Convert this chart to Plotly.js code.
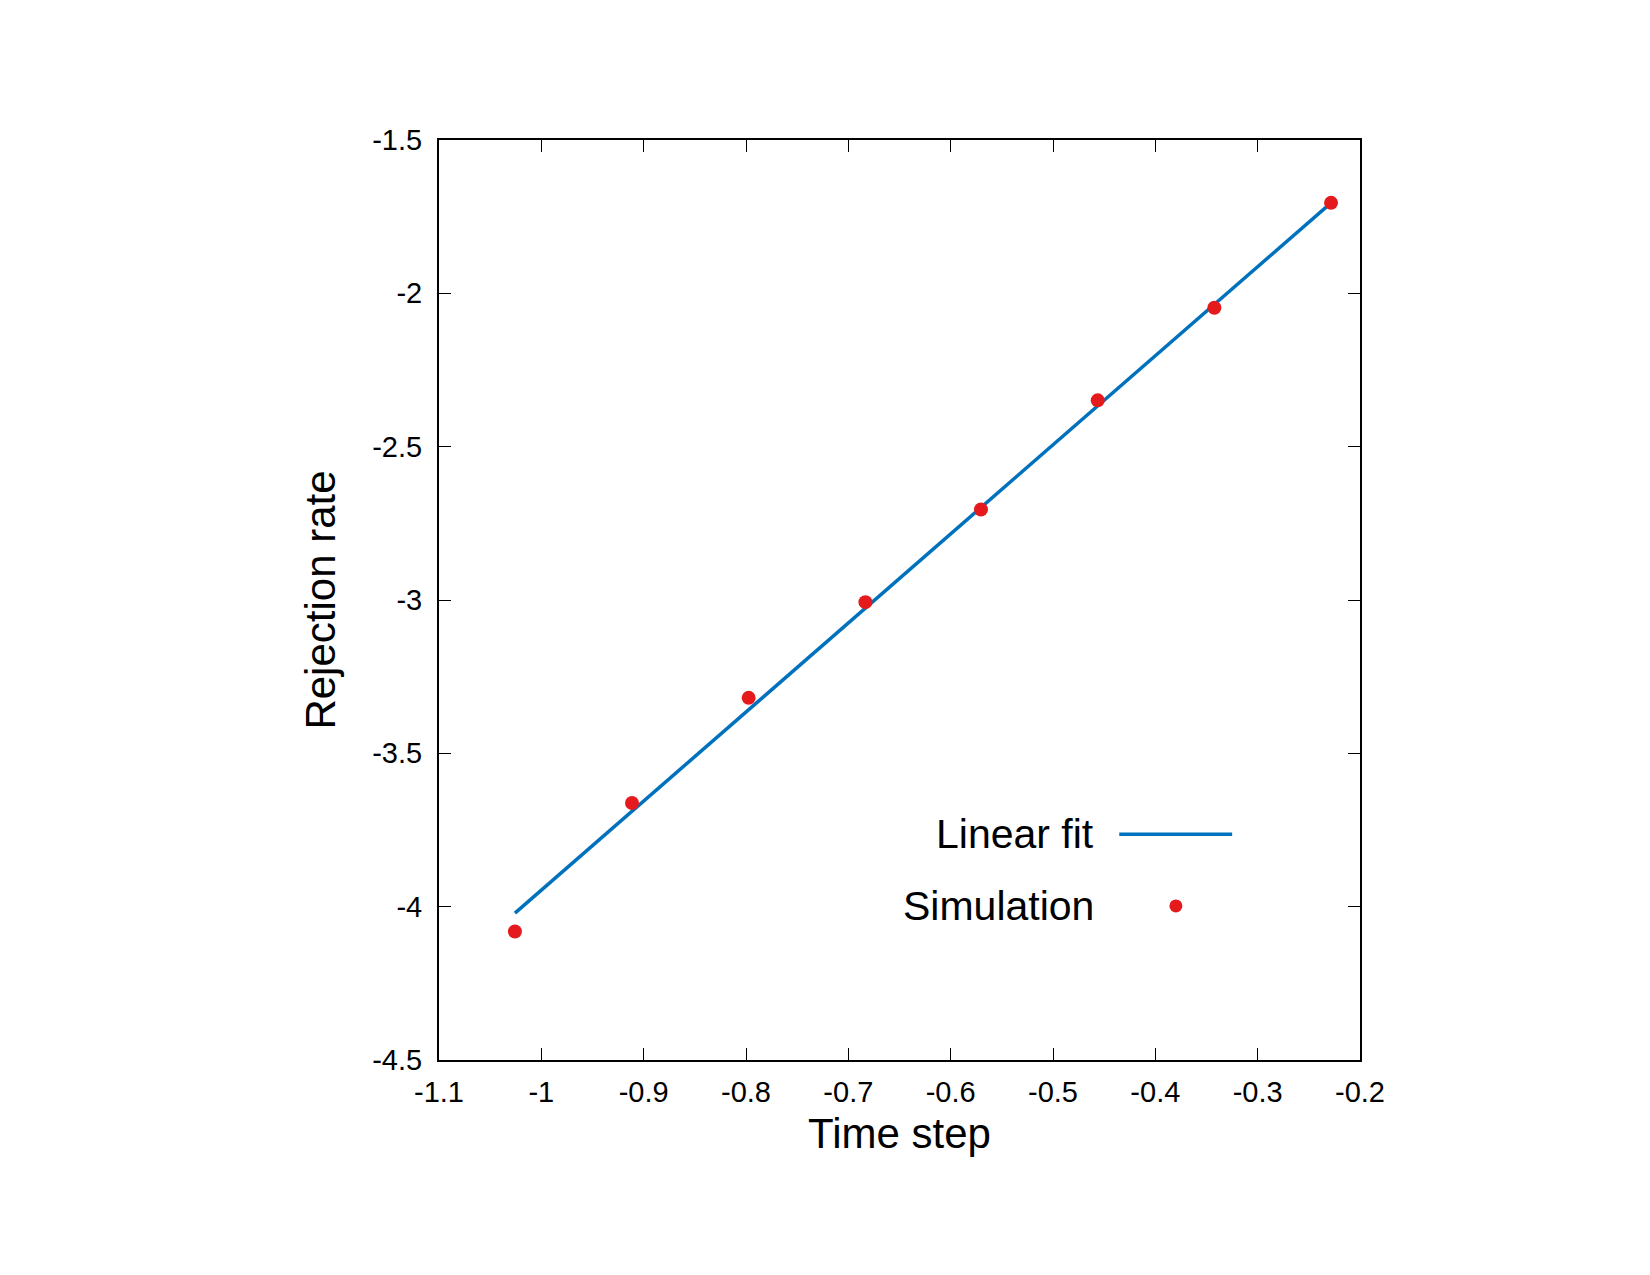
<!DOCTYPE html>
<html>
<head>
<meta charset="utf-8">
<script src="https://cdn.plot.ly/plotly-3.0.1.min.js"></script>
<style>html,body{margin:0;padding:0;background:#fff;}</style>
</head>
<body>
<div id="chart" style="width:1650px;height:1275px;"></div>
<script>
// Simulation data
const timeStep = [-1.0258, -0.9114, -0.7974, -0.6833, -0.5704, -0.4563, -0.3423, -0.2283];
const rejectionRate = [-4.081, -3.662, -3.319, -3.007, -2.705, -2.349, -2.047, -1.705];
// Linear fit end points
const fitX = [-1.0258, -0.2283];
const fitY = [-4.021, -1.705];
// Tick values
const xTicks = [-1.1, -1, -0.9, -0.8, -0.7, -0.6, -0.5, -0.4, -0.3, -0.2];
const yTicks = [-4.5, -4, -3.5, -3, -2.5, -2, -1.5];
const legendNames = ["Linear fit", "Simulation"];

const FONT = "Liberation Sans, Arial, Helvetica, sans-serif";
const lineColor = "#0072bd";
const dotColor = "#e41a1c";

const traces = [
  {x: fitX, y: fitY, mode: "lines", name: legendNames[0],
   line: {color: lineColor, width: 3.5}, showlegend: false, hoverinfo: "skip"},
  {x: timeStep, y: rejectionRate, mode: "markers", name: legendNames[1],
   marker: {color: dotColor, size: 14}, showlegend: false}
];

const axisCommon = {
  showgrid: false, zeroline: false, showline: true, linecolor: "#000", linewidth: 2,
  mirror: "allticks", ticks: "inside", ticklen: 12, tickwidth: 1, tickcolor: "#000",
  tickfont: {family: FONT, size: 29, color: "#000"}
};

const layout = {
  width: 1650, height: 1275,
  margin: {l: 439, r: 290, t: 140, b: 215, pad: 0},
  paper_bgcolor: "#fff", plot_bgcolor: "#fff",
  font: {family: FONT, color: "#000"},
  showlegend: false,
  xaxis: Object.assign({}, axisCommon, {
    range: [-1.1, -0.2], tickvals: xTicks, ticktext: xTicks.map(String),
    ticklabelstandoff: 5,
    title: {text: "Time step", font: {family: FONT, size: 42, color: "#000"}, standoff: 12}
  }),
  yaxis: Object.assign({}, axisCommon, {
    range: [-4.5, -1.5], tickvals: yTicks, ticktext: yTicks.map(String),
    ticklabelstandoff: 9,
    title: {text: "Rejection rate", font: {family: FONT, size: 42, color: "#000"}, standoff: 24}
  }),
  annotations: [
    {xref: "paper", yref: "paper", x: 0.7137, y: 0.2454, xanchor: "right", yanchor: "middle",
     text: legendNames[0], showarrow: false, font: {family: FONT, size: 41, color: "#000"}},
    {xref: "paper", yref: "paper", x: 0.7137, y: 0.1675, xanchor: "right", yanchor: "middle",
     text: legendNames[1], showarrow: false, font: {family: FONT, size: 41, color: "#000"}}
  ],
  shapes: [
    {type: "line", xref: "paper", yref: "paper", x0: 0.7386, x1: 0.8612, y0: 0.2454, y1: 0.2454,
     line: {color: lineColor, width: 3.5}},
    {type: "circle", xref: "paper", yref: "paper", xsizemode: "pixel", ysizemode: "pixel",
     xanchor: 0.8001, yanchor: 0.1675, x0: -6.5, x1: 6.5, y0: -6.5, y1: 6.5,
     fillcolor: dotColor, line: {width: 0}}
  ]
};

Plotly.newPlot("chart", traces, layout, {displayModeBar: false, staticPlot: true});
</script>
</body>
</html>
